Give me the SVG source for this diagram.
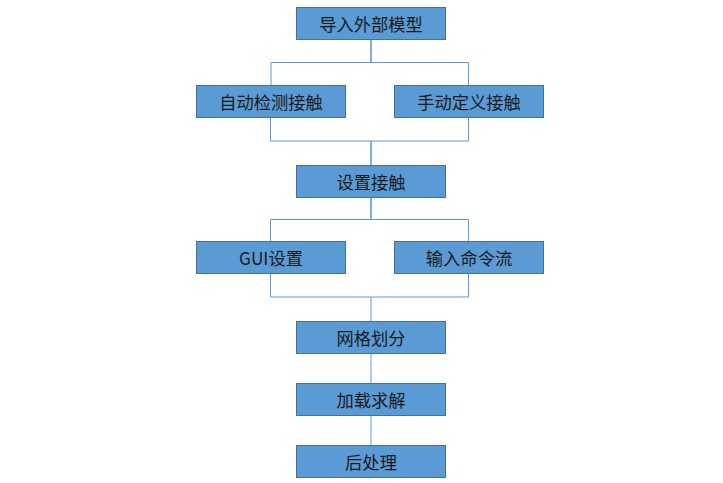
<svg xmlns="http://www.w3.org/2000/svg" width="723" height="483" viewBox="0 0 723 483">
<style>
.box{fill:#5B9BD5;stroke:#41719C;stroke-width:1}
.lbl{font-family:"Noto Sans CJK SC","Noto Sans",sans-serif;font-size:17.3px;fill:#1a1a1a;text-anchor:middle;dominant-baseline:central}
.c{fill:none;stroke:#5B9BD5;stroke-width:1}
.t{fill:none;stroke:#5B9BD5;stroke-width:1.6}
</style>
<rect width="723" height="483" fill="#fff"/>
<g id="connectors">
<path class="t" d="M371 39V62"/>
<path class="c" d="M271 85V62.5H468.5V85"/>
<path class="c" d="M270.5 117V141H468.5V117"/>
<path class="t" d="M371 141V165"/>
<path class="t" d="M371 197V219"/>
<path class="c" d="M270.5 241V219.5H468.5V241"/>
<path class="c" d="M270.5 273V297H468.5V273"/>
<path class="c" d="M371 297V321"/>
<path class="c" d="M371 353V383"/>
<path class="c" d="M371 415V445"/>
</g>
<g id="n1"><rect class="box" x="296.5" y="7.5" width="149" height="32"/><text class="lbl" x="371" y="23.5">导入外部模型</text></g>
<g id="n2"><rect class="box" x="196.5" y="85.5" width="149" height="32"/><text class="lbl" x="271" y="101.5">自动检测接触</text></g>
<g id="n3"><rect class="box" x="394.5" y="85.5" width="149" height="32"/><text class="lbl" x="469" y="101.5">手动定义接触</text></g>
<g id="n4"><rect class="box" x="296.5" y="165.5" width="149" height="32"/><text class="lbl" x="371" y="181.5">设置接触</text></g>
<g id="n5"><rect class="box" x="196.5" y="241.5" width="149" height="32"/><text class="lbl" x="271" y="257.5">GUI设置</text></g>
<g id="n6"><rect class="box" x="394.5" y="241.5" width="149" height="32"/><text class="lbl" x="469" y="257.5">输入命令流</text></g>
<g id="n7"><rect class="box" x="296.5" y="321.5" width="149" height="32"/><text class="lbl" x="371" y="337.5">网格划分</text></g>
<g id="n8"><rect class="box" x="296.5" y="383.5" width="149" height="32"/><text class="lbl" x="371" y="399.5">加载求解</text></g>
<g id="n9"><rect class="box" x="296.5" y="445.5" width="149" height="32"/><text class="lbl" x="371" y="461.5">后处理</text></g>
</svg>
